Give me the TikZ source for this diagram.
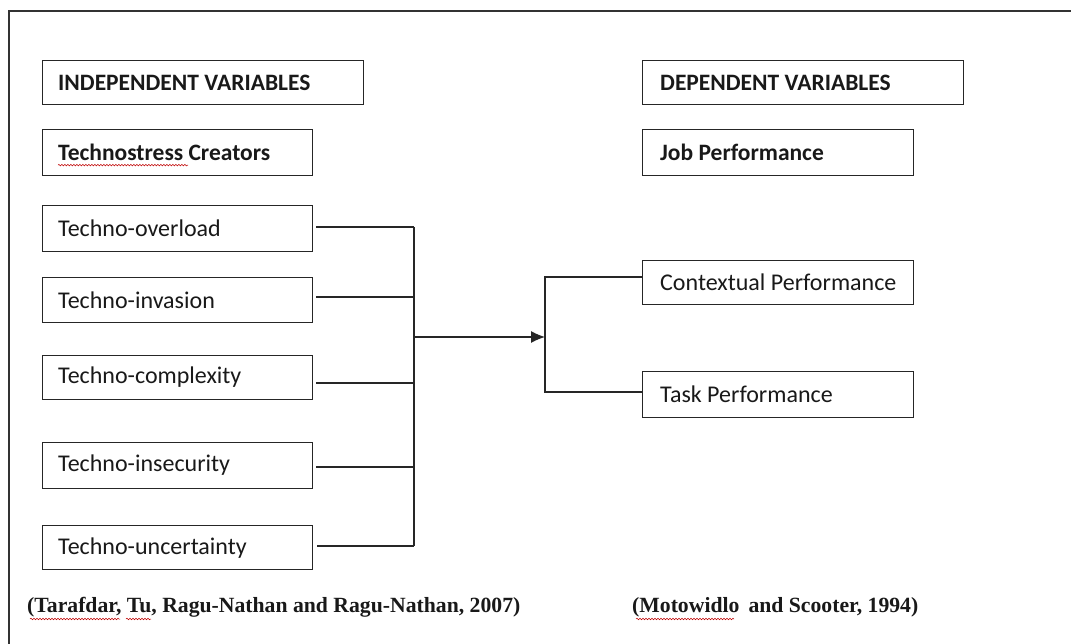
\documentclass[tikz,border=0pt]{standalone}
\usepackage{fontspec}
\setmainfont{Carlito}
\newfontfamily\citefont{Liberation Serif}
\usetikzlibrary{arrows.meta,decorations.pathmorphing}
\tikzset{
  vbox/.style={draw=black!85, line width=1.2pt, rectangle, anchor=north west, inner sep=0pt},
  lbl/.style={anchor=west, inner sep=0pt, font=\fontsize{24}{28}\selectfont, text=black!90},
  blbl/.style={anchor=west, inner sep=0pt, font=\bfseries\fontsize{23.5}{28}\selectfont, text=black!90},
  conn/.style={draw=black!85, line width=1.1pt},
  cite/.style={font=\citefont\bfseries\fontsize{21.7}{26}\selectfont, anchor=west, inner sep=0pt, text=black!90},
  spell/.style={draw=red!75!black, line width=0.5pt, decorate, decoration={snake, amplitude=0.8pt, segment length=3pt}}
}
\begin{document}
\begin{tikzpicture}[x=1pt,y=-1pt]
\useasboundingbox (0,0) rectangle (1071,644);
\fill[white] (0,0) rectangle (1071,644);
% outer frame
\draw[line width=1.2pt, black!80] (9,644) -- (9,11) -- (1071,11);

% left column
\node[vbox, minimum width=321pt, minimum height=44pt] (iv) at (42,60) {};
\node[blbl] (ivt) at ([xshift=16pt]iv.west) {INDEPENDENT VARIABLES};
\node[vbox, minimum width=270pt, minimum height=46pt] (tc) at (42,129) {};
\node[blbl] (tct) at ([xshift=16pt]tc.west) {Technostress Creators};

\node[vbox, minimum width=270pt, minimum height=46pt] (ov) at (42,205) {};
\node[lbl] (ovt) at ([xshift=16pt]ov.west) {Techno-overload};
\node[vbox, minimum width=270pt, minimum height=45pt] (inv) at (42,277) {};
\node[lbl] (invt) at ([xshift=16pt]inv.west) {Techno-invasion};
\node[vbox, minimum width=270pt, minimum height=44pt] (cx) at (42,355) {};
\node[lbl] (cxt) at ([xshift=16pt]cx.west) {Techno-complexity};
\node[vbox, minimum width=270pt, minimum height=46pt] (ins) at (42,442) {};
\node[lbl] (inst) at ([xshift=16pt]ins.west) {Techno-insecurity};
\node[vbox, minimum width=270pt, minimum height=44pt] (unc) at (42,525) {};
\node[lbl] (unct) at ([xshift=16pt]unc.west) {Techno-uncertainty};

% right column
\node[vbox, minimum width=321pt, minimum height=44pt] (dv) at (642,60) {};
\node[blbl] (dvt) at ([xshift=18pt]dv.west) {DEPENDENT VARIABLES};
\node[vbox, minimum width=271pt, minimum height=46pt] (jp) at (642,129) {};
\node[blbl] (jpt) at ([xshift=18pt]jp.west) {Job Performance};
\node[vbox, minimum width=271pt, minimum height=44pt] (cp) at (642,260) {};
\node[lbl] (cpt) at ([xshift=18pt]cp.west) {Contextual Performance};
\node[vbox, minimum width=271pt, minimum height=46pt] (tp) at (642,371) {};
\node[lbl] (tpt) at ([xshift=18pt]tp.west) {Task Performance};

% connectors, left bracket
\coordinate (busT) at (414,227);
\coordinate (busB) at (414,546);
\coordinate (mid) at (414,337);
\coordinate (rb) at (545,337);
\draw[conn] ([xshift=3pt]ov.east |- busT) -- (busT);
\draw[conn] ([xshift=3pt]inv.east |- 0,297) -- (414,297);
\draw[conn] ([xshift=3pt]cx.east |- 0,383) -- (414,383);
\draw[conn] ([xshift=3pt]ins.east |- 0,467) -- (414,467);
\draw[conn] ([xshift=4pt]unc.east |- busB) -- (busB);
\draw[conn] (busT) -- (busB);
\draw[conn, -{Latex[length=14pt,width=12pt]}] (mid) -- (rb);
% right bracket
\draw[conn] (cp.west |- 0,277) -| (545,392) -- (tp.west |- 0,392);

% citations
\node[cite] (c1) at (27,607) {(Tarafdar, Tu, Ragu-Nathan and Ragu-Nathan, 2007)};
\node[cite] (c2) at (632,607) {(Motowidlo\, and Scooter, 1994)};

% spell-check marks
\draw[spell] ([yshift=-4pt]tct.south west) -- ++(130,0);
\draw[spell] (30,619) -- ++(90,0);
\draw[spell] (126,619) -- ++(25,0);
\draw[spell] (636,619) -- ++(98,0);
\end{tikzpicture}
\end{document}
